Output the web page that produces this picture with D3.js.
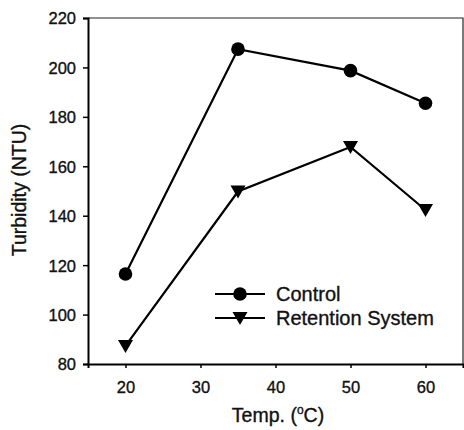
<!DOCTYPE html>
<html>
<head>
<meta charset="utf-8">
<script src="https://cdn.jsdelivr.net/npm/d3@7"></script>
<style>
  body { margin: 0; background: #fff; }
  text { font-family: "Liberation Sans", Arial, sans-serif; fill: #111; stroke: #111; stroke-width: 0.35px; }
</style>
</head>
<body>
<div id="chart"></div>
<script>
// data
var temps = [20, 35, 50, 60];
var control = [116.4, 207.4, 198.7, 185.5];
var retention = [87.3, 149.8, 167.8, 142.3];
var xTicks = [20, 30, 40, 50, 60];
var yTicks = [80, 100, 120, 140, 160, 180, 200, 220];
var seriesNames = ["Control", "Retention System"];

var width = 464, height = 430;
var margin = {left: 88, top: 18, right: 1, bottom: 66};

var svg = d3.select("#chart").append("svg")
    .attr("width", width).attr("height", height);

var x = d3.scaleLinear().domain([15, 65]).range([margin.left, width - margin.right]);
var y = d3.scaleLinear().domain([80, 220]).range([height - margin.bottom, margin.top]);

// frame, thin on top/right
svg.append("path")
    .attr("d", "M" + x(15) + "," + y(220) + "H" + x(65) + "V" + y(80))
    .attr("fill", "none").attr("stroke", "#222").attr("stroke-width", 1.2);

var xAxis = svg.append("g")
    .attr("transform", "translate(0," + y(80) + ")")
    .call(d3.axisBottom(x).tickValues(xTicks).tickSize(4).tickPadding(10));
var yAxis = svg.append("g")
    .attr("transform", "translate(" + x(15) + ",0)")
    .call(d3.axisLeft(y).tickValues(yTicks).tickSize(5).tickPadding(7));

[xAxis, yAxis].forEach(function(a) {
    a.select(".domain").attr("stroke", "#000").attr("stroke-width", 2);
    a.selectAll(".tick line").attr("stroke", "#000").attr("stroke-width", 1.5);
    a.selectAll("text").attr("font-size", 16.5).attr("fill", "#111")
        .style("font-family", "'Liberation Sans', Arial, sans-serif");
});
xAxis.selectAll("text").attr("dy", "0.9em");
yAxis.selectAll("text").attr("dy", "0.36em");

var line = d3.line()
    .x(function(d) { return x(d[0]); })
    .y(function(d) { return y(d[1]); });

var triangle = "M-7.5,-6L7.5,-6L0,7Z";

function drawSeries(vals, shape) {
    var pts = temps.map(function(t, i) { return [t, vals[i]]; });
    svg.append("path").datum(pts)
        .attr("d", line)
        .attr("fill", "none").attr("stroke", "#000").attr("stroke-width", 2.2);
    var m = svg.append("g").selectAll(".m").data(pts).enter();
    if (shape == "circle") {
        m.append("circle")
            .attr("cx", function(d) { return x(d[0]); })
            .attr("cy", function(d) { return y(d[1]); })
            .attr("r", 6.8).attr("fill", "#000");
    } else {
        m.append("path")
            .attr("d", triangle)
            .attr("transform", function(d) { return "translate(" + x(d[0]) + "," + y(d[1]) + ")"; })
            .attr("fill", "#000");
    }
}
drawSeries(control, "circle");
drawSeries(retention, "triangle");

// legend
var leg = svg.append("g");
var legRows = [294, 318];
seriesNames.forEach(function(name, i) {
    var ly = legRows[i];
    leg.append("line").attr("x1", 215).attr("x2", 265).attr("y1", ly).attr("y2", ly)
        .attr("stroke", "#000").attr("stroke-width", 2.2);
    if (i == 0) {
        leg.append("circle").attr("cx", 240).attr("cy", ly).attr("r", 6.8).attr("fill", "#000");
    } else {
        leg.append("path").attr("d", triangle)
            .attr("transform", "translate(240," + ly + ")").attr("fill", "#000");
    }
    leg.append("text").attr("x", 276).attr("y", ly).attr("dy", "0.36em")
        .attr("font-size", 20).text(name);
});

// axis titles
var xt = svg.append("text")
    .attr("x", 278).attr("y", 422)
    .attr("text-anchor", "middle").attr("font-size", 19.5);
xt.append("tspan").text("Temp. (");
xt.append("tspan").attr("font-size", 12).attr("dy", -8).text("o");
xt.append("tspan").attr("dy", 8).text("C)");

svg.append("text")
    .attr("transform", "translate(26,190) rotate(-90)")
    .attr("text-anchor", "middle").attr("font-size", 19.5)
    .text("Turbidity (NTU)");
</script>
</body>
</html>
